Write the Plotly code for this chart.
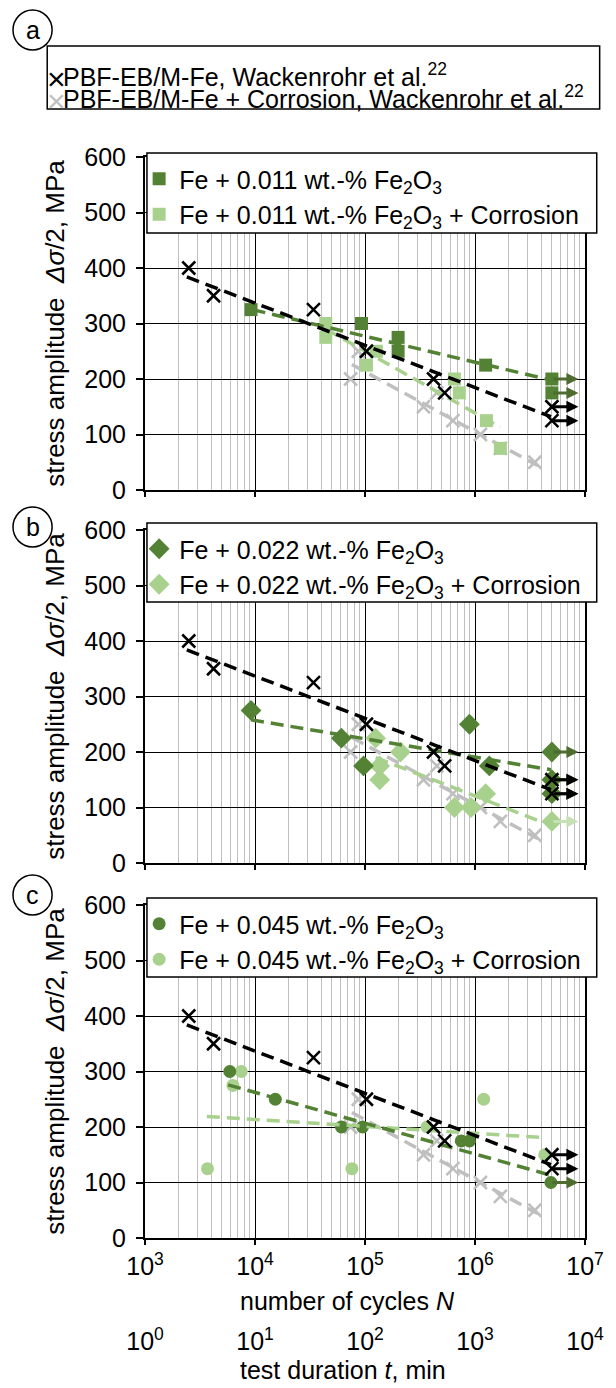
import math
import plotly.graph_objects as go

# ---------------- data ----------------
# reference material (Wackenrohr et al.)
ref_N = [2.5e3, 4.2e3, 3.4e4, 1.03e5, 4.2e5, 5.3e5, 5.0e6, 5.0e6]
ref_S = [400, 350, 325, 250, 200, 175, 150, 125]
ref_runout = [0, 0, 0, 0, 0, 0, 1, 1]
refc_N = [7.4e4, 8.7e4, 3.4e5, 4.5e5, 6.3e5, 1.12e6, 1.7e6, 3.5e6]
refc_S = [200, 250, 150, 175, 125, 100, 75, 50]
ref_trend_N = [2.4e3, 4.9e6]
ref_trend_S = [384, 132]
refc_trend_N = [7.6e4, 3.7e6]
refc_trend_S = [226, 44]

# (a) Fe + 0.011 wt.-% Fe2O3
a_N = [9.2e3, 9.3e4, 2.0e5, 2.0e5, 1.25e6, 5.0e6, 5.0e6]
a_S = [325, 300, 275, 250, 225, 200, 175]
a_runout = [0, 0, 0, 0, 0, 1, 1]
ac_N = [4.4e4, 4.4e4, 1.03e5, 1.27e5, 6.5e5, 7.2e5, 1.27e6, 1.7e6]
ac_S = [300, 275, 225, 250, 200, 175, 125, 75]
ac_runout = [0, 0, 0, 0, 0, 0, 0, 0]
a_trend_N = [9.5e3, 4.9e6]
a_trend_S = [325, 198]
ac_trend_N = [4.4e4, 1.7e6]
ac_trend_S = [290, 113]

# (b) Fe + 0.022 wt.-% Fe2O3
b_N = [9.2e3, 6.1e4, 9.7e4, 8.9e5, 1.35e6, 5.0e6, 5.0e6, 5.0e6]
b_S = [275, 225, 175, 250, 175, 200, 150, 125]
b_runout = [0, 0, 0, 0, 0, 1, 1, 1]
bc_N = [1.25e5, 2.1e5, 1.36e5, 1.36e5, 6.5e5, 9.2e5, 1.25e6, 5.0e6]
bc_S = [225, 200, 175, 150, 100, 100, 125, 75]
bc_runout = [0, 0, 0, 0, 0, 0, 0, 1]
b_trend_N = [9.2e3, 4.9e6]
b_trend_S = [258, 168]
bc_trend_N = [1.25e5, 3.7e6]
bc_trend_S = [190, 77]

# (c) Fe + 0.045 wt.-% Fe2O3
c_N = [5.9e3, 1.53e4, 6.1e4, 9.5e4, 7.5e5, 8.9e5, 4.9e6]
c_S = [300, 250, 200, 200, 175, 175, 100]
c_runout = [0, 0, 0, 0, 0, 0, 1]
cc_N = [7.5e3, 6.3e3, 3.7e3, 7.6e4, 3.66e5, 1.2e6, 4.3e6]
cc_S = [300, 275, 125, 125, 200, 250, 150]
cc_runout = [0, 0, 0, 0, 0, 0, 0]
c_trend_N = [5.7e3, 4.9e6]
c_trend_S = [276, 113]
cc_trend_N = [3.65e3, 4.1e6]
cc_trend_S = [219, 181]

cycle_ticks = [1e3, 1e4, 1e5, 1e6, 1e7]
cycle_ticktext = ["10<sup>3</sup>", "10<sup>4</sup>", "10<sup>5</sup>", "10<sup>6</sup>", "10<sup>7</sup>"]
time_ticks = [1e0, 1e1, 1e2, 1e3, 1e4]
time_ticktext = ["10<sup>0</sup>", "10<sup>1</sup>", "10<sup>2</sup>", "10<sup>3</sup>", "10<sup>4</sup>"]
ref_labels = ["PBF-EB/M-Fe, Wackenrohr et al.<sup>22</sup>",
              "PBF-EB/M-Fe + Corrosion, Wackenrohr et al.<sup>22</sup>"]
x_title = "number of cycles <i>N</i>"
x2_title = "test duration <i>t</i>, min"
y_title = "stress amplitude\u00a0\u00a0<i>Δσ</i>/2, MPa"
RUNOUT_TIP_N = 8.7e6

# ---------------- styles ----------------
FONT = "Liberation Sans, Arial, sans-serif"
FS = 25
DARK = "#548235"
LIGHT = "#A9D18E"
GREY = "#BFBFBF"
DARK_ARROW = "#4E6B30"
LIGHT_ARROW = "#C5E0B4"
DASH = "13px,7px"

fig = go.Figure()
annotations = []


def add_runout_arrows(N, S, flags, color, xr, yr):
    for n, s, f in zip(N, S, flags):
        if f:
            annotations.append(dict(
                x=math.log10(RUNOUT_TIP_N), y=s, ax=math.log10(n), ay=s,
                xref=xr, yref=yr, axref=xr, ayref=yr, text="", showarrow=True,
                arrowhead=2, arrowsize=0.8, arrowwidth=3, arrowcolor=color,
                standoff=0, startstandoff=0))


def add_trend(N, S, color, xr, yr):
    fig.add_trace(go.Scatter(x=N, y=S, mode="lines", xaxis=xr, yaxis=yr,
                             line=dict(color=color, width=3.5, dash=DASH),
                             showlegend=False, hoverinfo="skip"))


panels = [
    ("x", "y", "legend", "0.011", "square", 13, a_N, a_S, a_runout, ac_N, ac_S, ac_runout,
     a_trend_N, a_trend_S, ac_trend_N, ac_trend_S),
    ("x2", "y2", "legend2", "0.022", "diamond", 16, b_N, b_S, b_runout, bc_N, bc_S, bc_runout,
     b_trend_N, b_trend_S, bc_trend_N, bc_trend_S),
    ("x3", "y3", "legend3", "0.045", "circle", 13, c_N, c_S, c_runout, cc_N, cc_S, cc_runout,
     c_trend_N, c_trend_S, cc_trend_N, cc_trend_S),
]

for i, (xr, yr, lg, conc, sym, msize, dN, dS, dR, lN, lS, lR, dtN, dtS, ltN, ltS) in enumerate(panels):
    # corroded reference (grey crosses)
    fig.add_trace(go.Scatter(
        x=refc_N, y=refc_S, mode="markers", xaxis=xr, yaxis=yr,
        marker=dict(symbol="x-thin", size=13, line=dict(width=2.5, color=GREY)),
        name=ref_labels[1], showlegend=False))
    add_trend(refc_trend_N, refc_trend_S, GREY, xr, yr)
    # light green (corrosion)
    fig.add_trace(go.Scatter(
        x=lN, y=lS, mode="markers", xaxis=xr, yaxis=yr,
        marker=dict(symbol=sym, size=msize, color=LIGHT),
        name="Fe + " + conc + " wt.-% Fe<sub>2</sub>O<sub>3</sub> + Corrosion",
        legend=lg, legendrank=2))
    # dark green
    fig.add_trace(go.Scatter(
        x=dN, y=dS, mode="markers", xaxis=xr, yaxis=yr,
        marker=dict(symbol=sym, size=msize, color=DARK),
        name="Fe + " + conc + " wt.-% Fe<sub>2</sub>O<sub>3</sub>",
        legend=lg, legendrank=1))
    add_trend(ltN, ltS, LIGHT, xr, yr)
    add_trend(dtN, dtS, DARK, xr, yr)
    # reference (black crosses)
    fig.add_trace(go.Scatter(
        x=ref_N, y=ref_S, mode="markers", xaxis=xr, yaxis=yr,
        marker=dict(symbol="x-thin", size=13, line=dict(width=2.5, color="black")),
        name=ref_labels[0], showlegend=False))
    add_trend(ref_trend_N, ref_trend_S, "black", xr, yr)

    add_runout_arrows(lN, lS, lR, LIGHT_ARROW, xr, yr)
    add_runout_arrows(dN, dS, dR, DARK_ARROW, xr, yr)
    add_runout_arrows(ref_N, ref_S, ref_runout, "black", xr, yr)

# dummy trace for secondary (time) axis
fig.add_trace(go.Scatter(x=[1, 1e4], y=[0, 1], mode="markers", xaxis="x4", yaxis="y4",
                         marker=dict(opacity=0), showlegend=False, hoverinfo="skip"))

# ---------------- layout ----------------
W, H = 616, 1388
ML, MR, MT, MB = 145, 21, 157, 74
PH = H - MT - MB
PW = W - ML - MR


def py(pix):
    return (H - MB - pix) / PH


def px(pix):
    return (pix - ML) / PW


minor_vals = [k * 10 ** e for e in range(3, 7) for k in range(2, 10)]

xcommon = dict(type="log", range=[3, 7], tickvals=cycle_ticks, ticktext=cycle_ticktext,
               showgrid=True, gridcolor="black", gridwidth=1.3,
               minor=dict(tickvals=minor_vals, showgrid=True, gridcolor=GREY, gridwidth=1.3),
               showline=True, linecolor="black", linewidth=2, mirror=True,
               ticks="outside", ticklen=5, tickwidth=1.5, tickcolor="black",
               zeroline=False, tickfont=dict(size=FS))
ycommon = dict(range=[0, 600], dtick=100, showgrid=True, gridcolor="black", gridwidth=1.3,
               showline=True, linecolor="black", linewidth=2, mirror=True,
               ticks="outside", ticklen=7, tickwidth=1.5, tickcolor="black",
               ticklabelstandoff=5, zeroline=False, tickfont=dict(size=FS),
               title=dict(text=y_title, font=dict(size=26), standoff=12),
               automargin=False)

ydoms = [(py(490), py(157)), (py(863), py(530)), (py(1238), py(905))]

fig.update_layout(
    width=W, height=H, margin=dict(l=ML, r=MR, t=MT, b=MB),
    plot_bgcolor="white", paper_bgcolor="white",
    font=dict(family=FONT, size=FS, color="black"),
    xaxis=dict(xcommon, anchor="y", showticklabels=False),
    xaxis2=dict(xcommon, anchor="y2", showticklabels=False),
    xaxis3=dict(xcommon, anchor="y3", showticklabels=True),
    xaxis4=dict(type="log", range=[0, 4], anchor="y4", tickvals=time_ticks, ticktext=time_ticktext,
                showgrid=False, showline=False, zeroline=False, ticks="outside", ticklen=5,
                tickcolor="rgba(0,0,0,0)", tickfont=dict(size=FS)),
    yaxis=dict(ycommon, anchor="x", domain=list(ydoms[0])),
    yaxis2=dict(ycommon, anchor="x2", domain=list(ydoms[1])),
    yaxis3=dict(ycommon, anchor="x3", domain=list(ydoms[2])),
    yaxis4=dict(anchor="x4", domain=[0, 0.001], visible=False, range=[0, 1]),
)

# legend boxes drawn as framed rectangles; legends themselves are transparent on top
leg_boxes = [(153, 233), (523, 602), (898, 977)]
for top, bot in leg_boxes:
    fig.add_shape(type="rect", xref="paper", yref="paper", layer="above",
                  x0=px(147), x1=px(607), y0=py(bot), y1=py(top),
                  line=dict(color="black", width=1.5), fillcolor="white")

leg_common = dict(xanchor="left", yanchor="top", bgcolor="rgba(0,0,0,0)",
                  borderwidth=0, font=dict(size=FS, family=FONT), tracegroupgap=0,
                  itemclick=False)
fig.update_layout(
    legend=dict(leg_common, x=px(139), y=py(156)),
    legend2=dict(leg_common, x=px(139), y=py(526)),
    legend3=dict(leg_common, x=px(139), y=py(901)),
)

# axis titles of the shared bottom axes (placed as in the original figure)
annotations.append(dict(x=px(240), y=py(1301), xref="paper", yref="paper", xanchor="left",
                        yanchor="middle", showarrow=False, text=x_title,
                        font=dict(size=FS, family=FONT)))
annotations.append(dict(x=px(240), y=py(1370), xref="paper", yref="paper", xanchor="left",
                        yanchor="middle", showarrow=False, text=x2_title,
                        font=dict(size=FS, family=FONT)))

# top legend box for the reference series (compact rows as in the original)
fig.add_shape(type="rect", xref="paper", yref="paper",
              x0=px(45), x1=px(610), y0=py(109), y1=py(46),
              line=dict(color="black", width=1.5), fillcolor="white")
for lab, col, cy in [(ref_labels[0], "black", 75), (ref_labels[1], GREY, 97)]:
    annotations.append(dict(
        x=px(54), y=py(cy + 4), xref="paper", yref="paper", xanchor="center", yanchor="middle",
        showarrow=False, font=dict(size=32, family=FONT, color=col), text="×"))
    annotations.append(dict(
        x=px(59), y=py(cy), xref="paper", yref="paper", xanchor="left", yanchor="middle",
        showarrow=False, font=dict(size=FS, family=FONT, color="black"), text=lab))

# panel labels (a), (b), (c)
for lab, cy in [("a", 30), ("b", 527), ("c", 895)]:
    r = 20
    fig.add_shape(type="circle", xref="paper", yref="paper",
                  x0=px(30 - r), x1=px(30 + r), y0=py(cy + r), y1=py(cy - r),
                  line=dict(color="black", width=1.5), fillcolor="white")
    annotations.append(dict(x=px(30), y=py(cy), xref="paper", yref="paper", text=lab,
                            showarrow=False, font=dict(size=FS, family=FONT),
                            xanchor="center", yanchor="middle"))

fig.update_layout(annotations=annotations)

fig.write_html("out.html", config={"displayModeBar": False},
               post_script="document.body.style.margin='0px';document.body.style.padding='0px';")
